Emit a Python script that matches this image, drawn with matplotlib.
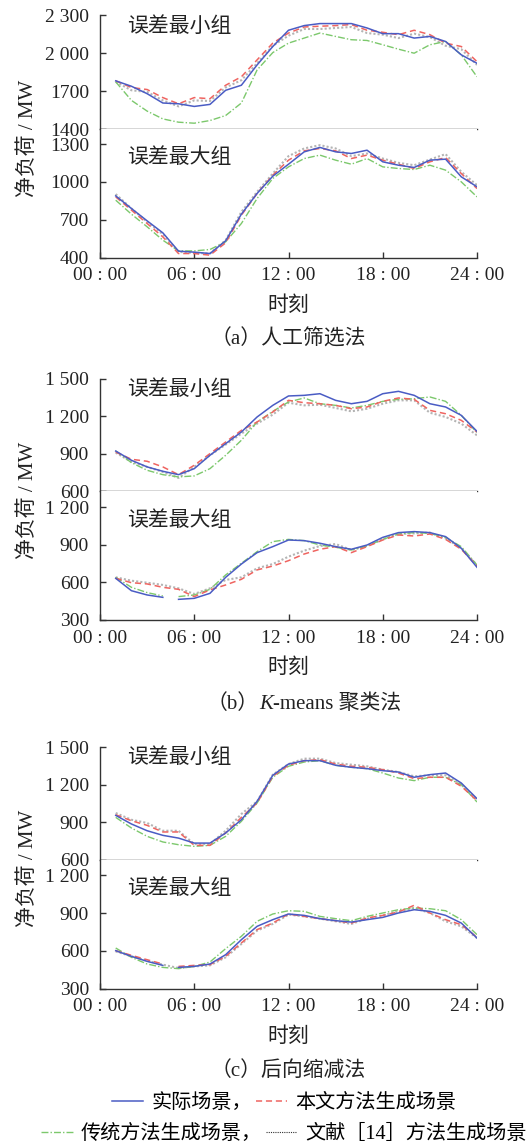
import matplotlib
matplotlib.use("Agg")
from matplotlib import pyplot as plt
from matplotlib.lines import Line2D
from matplotlib.text import Annotation

plt.rcParams['font.family'] = ['Liberation Serif', 'Noto Sans CJK SC', 'DejaVu Sans']

# hourly points 01:00 .. 24:00
hours = list(range(1, 25))
x_ticks = [0, 6, 12, 18, 24]
x_labels = ['00 : 00', '06 : 00', '12 : 00', '18 : 00', '24 : 00']

# (a) 人工筛选法 - 误差最小组
a_min_actual = [1782, 1739, 1680, 1606, 1600, 1579, 1595, 1707, 1747, 1908, 2054, 2183,
                2220, 2236, 2236, 2236, 2201, 2156, 2156, 2121, 2134, 2094, 1988, 1921]
a_min_ours = [1782, 1729, 1713, 1649, 1600, 1649, 1640, 1747, 1814, 1948, 2081, 2161,
              2209, 2215, 2220, 2228, 2183, 2167, 2148, 2183, 2148, 2081, 2054, 1934]
a_min_trad = [1774, 1627, 1542, 1480, 1454, 1446, 1467, 1507, 1606, 1868, 2006, 2081,
              2121, 2161, 2134, 2108, 2102, 2068, 2033, 2001, 2068, 2094, 1988, 1814]
a_min_ref14 = [1774, 1707, 1694, 1627, 1579, 1627, 1622, 1729, 1787, 1921, 2060, 2140,
               2193, 2193, 2201, 2209, 2161, 2148, 2121, 2156, 2129, 2060, 2033, 1908]
# (a) 误差最大组
a_max_actual = [890, 790, 692, 597, 452, 444, 433, 534, 745, 909, 1046, 1141,
                1239, 1274, 1239, 1226, 1252, 1160, 1133, 1115, 1173, 1181, 1041, 962]
a_max_ours = [882, 777, 671, 565, 433, 433, 420, 518, 737, 909, 1054, 1173,
              1247, 1266, 1247, 1186, 1213, 1173, 1141, 1107, 1160, 1194, 1067, 948]
a_max_trad = [856, 745, 645, 539, 454, 454, 465, 526, 671, 869, 1028, 1120,
              1186, 1213, 1173, 1141, 1186, 1120, 1107, 1099, 1133, 1094, 1001, 882]
a_max_ref14 = [904, 790, 684, 586, 446, 438, 433, 539, 763, 922, 1067, 1205,
               1266, 1292, 1266, 1205, 1226, 1186, 1152, 1133, 1178, 1221, 1081, 975]

# (b) K-means 聚类法 - 误差最小组
b_min_actual = [922, 848, 795, 760, 733, 781, 888, 981, 1074, 1194, 1287, 1362,
                1367, 1380, 1327, 1300, 1319, 1380, 1399, 1367, 1300, 1274, 1207, 1079]
b_min_ours = [914, 856, 840, 795, 733, 808, 901, 994, 1087, 1154, 1234, 1327,
              1308, 1300, 1287, 1260, 1274, 1319, 1346, 1335, 1247, 1220, 1167, 1074]
b_min_trad = [922, 829, 768, 733, 715, 723, 781, 888, 1008, 1154, 1239, 1314,
              1346, 1300, 1287, 1266, 1287, 1319, 1335, 1340, 1354, 1319, 1207, 1069]
b_min_ref14 = [909, 835, 795, 755, 707, 795, 888, 973, 1061, 1141, 1213, 1308,
               1287, 1292, 1266, 1239, 1260, 1300, 1327, 1327, 1228, 1194, 1141, 1047]
# (b) 误差最大组
b_max_actual = [633, 534, 500, 481, 465, 473, 513, 641, 747, 838, 886, 939,
                934, 913, 886, 865, 899, 960, 998, 1006, 998, 966, 873, 721]
b_max_ours = [633, 598, 588, 561, 545, 487, 540, 580, 625, 700, 731, 774,
              827, 865, 886, 838, 886, 939, 979, 971, 987, 944, 865, 731]
b_max_trad = [641, 561, 519, 492, 487, 500, 545, 660, 753, 846, 926, 944,
              934, 899, 881, 859, 891, 944, 987, 998, 992, 960, 886, 739]
b_max_ref14 = [641, 614, 598, 580, 553, 508, 553, 620, 641, 713, 747, 806,
               854, 891, 907, 859, 891, 944, 987, 992, 998, 952, 873, 739]

# (c) 后向缩减法 - 误差最小组
c_min_actual = [955, 886, 832, 795, 773, 733, 733, 814, 920, 1067, 1276, 1366,
                1393, 1393, 1356, 1340, 1329, 1313, 1302, 1260, 1281, 1294, 1214, 1089]
c_min_ours = [960, 912, 875, 822, 822, 715, 715, 814, 939, 1054, 1268, 1356,
              1393, 1401, 1366, 1348, 1340, 1321, 1294, 1249, 1260, 1260, 1188, 1073]
c_min_trad = [939, 854, 787, 742, 720, 707, 715, 787, 907, 1054, 1260, 1348,
              1382, 1393, 1356, 1340, 1329, 1294, 1254, 1233, 1260, 1260, 1201, 1062]
c_min_ref14 = [974, 920, 894, 832, 832, 725, 725, 832, 966, 1067, 1281, 1366,
               1409, 1409, 1374, 1361, 1348, 1321, 1302, 1268, 1276, 1276, 1201, 1081]
# (c) 误差最大组
c_max_actual = [602, 557, 517, 485, 469, 477, 496, 570, 689, 795, 848, 893,
                882, 856, 840, 829, 848, 866, 901, 927, 914, 882, 821, 702]
c_max_ours = [602, 565, 530, 496, 477, 485, 491, 557, 663, 769, 821, 893,
              874, 856, 840, 821, 861, 882, 909, 962, 901, 848, 808, 708]
c_max_trad = [623, 549, 496, 469, 459, 477, 512, 618, 716, 835, 893, 919,
              914, 874, 856, 840, 874, 901, 927, 941, 935, 919, 848, 729]
c_max_ref14 = [596, 557, 522, 491, 464, 477, 485, 549, 655, 761, 814, 888,
               874, 856, 835, 814, 856, 882, 914, 941, 901, 835, 795, 702]

STYLES = {
    'ref14': dict(color='#b4b4b4', lw=1.5, ls=(0, (1, 1))),
    'trad': dict(color='#7cc86c', lw=1.0, ls=(0, (5, 1.5, 1, 1.5))),
    'ours': dict(color='#ef6460', lw=1.1, ls=(0, (4, 2.5))),
    'actual': dict(color='#4a5cc4', lw=1.1, ls='-'),
}
TXT = '#222222'

W, H = 530, 1145
L, R = 100, 477


def fy(y):
    return 1 - y / H


def draw(ax, series, breaks):
    # series: dict name -> values, breaks: names drawn with a gap between 04:00 and 05:00
    for name in ['ref14', 'trad', 'ours', 'actual']:
        y = series[name]
        if name in breaks:
            ax.plot(hours[:4], y[:4], **STYLES[name])
            ax.plot(hours[4:], y[4:], **STYLES[name])
        else:
            ax.plot(hours, y, **STYLES[name])


def style_axes(ax, ylim, yticks, ylabels, is_top):
    ax.set_xlim(0, 24)
    ax.set_ylim(*ylim)
    ax.set_yticks(yticks)
    ax.set_yticklabels(ylabels, fontsize=14)
    ax.spines['right'].set_visible(False)
    ax.spines['top'].set_visible(False)
    for s in ax.spines.values():
        s.set_color('#333333')
        s.set_linewidth(1.0)
    ax.tick_params(axis='y', direction='in', length=4.5, width=1, color='#333333',
                   labelcolor=TXT, pad=8)
    if is_top:
        ax.tick_params(axis='x', bottom=False, labelbottom=False)
    else:
        ax.set_xticks(x_ticks)
        ax.set_xticklabels(x_labels, fontsize=14)
        ax.tick_params(axis='x', direction='in', length=4.5, width=1, color='#333333',
                       labelcolor=TXT, pad=7)


def chain_text(fig, parts, x, y):
    # pieces of mixed style written one after another on the same baseline
    prev = fig.text(x, y, parts[0][0], fontsize=15, style=parts[0][1],
                    ha='left', va='baseline', color=TXT)
    for text, fstyle in parts[1:]:
        prev = fig.add_artist(Annotation(text, xy=(1, y), xycoords=(prev, 'figure fraction'),
                                         fontsize=15, style=fstyle, ha='left',
                                         va='baseline', color=TXT))


fig = plt.figure(figsize=(W / 100, H / 100), dpi=100)

panels = [
    dict(top=15.5, sep=129, bot=257.7,
         mins=dict(actual=a_min_actual, ours=a_min_ours, trad=a_min_trad, ref14=a_min_ref14),
         maxs=dict(actual=a_max_actual, ours=a_max_ours, trad=a_max_trad, ref14=a_max_ref14),
         ylim_top=(1400, 2300), yt_top=[1400, 1700, 2000, 2300],
         yl_top=['1400', '1700', '2 000', '2 300'],
         ylim_bot=(400, 1420), yt_bot=[400, 700, 1000, 1300],
         yl_bot=['400', '700', '1000', '1300'],
         breaks=[], caption=[('（a）人工筛选法', 'normal')]),
    dict(top=378.7, sep=491.3, bot=620,
         mins=dict(actual=b_min_actual, ours=b_min_ours, trad=b_min_trad, ref14=b_min_ref14),
         maxs=dict(actual=b_max_actual, ours=b_max_ours, trad=b_max_trad, ref14=b_max_ref14),
         ylim_top=(600, 1500), yt_top=[600, 900, 1200, 1500],
         yl_top=['600', '900', '1 200', '1 500'],
         ylim_bot=(300, 1328), yt_bot=[300, 600, 900, 1200],
         yl_bot=['300', '600', '900', '1 200'],
         breaks=['actual', 'trad'],
         caption=[('（b）', 'normal'), ('K', 'italic'), ('-means 聚类法', 'normal')]),
    dict(top=747.3, sep=859.7, bot=988.7,
         mins=dict(actual=c_min_actual, ours=c_min_ours, trad=c_min_trad, ref14=c_min_ref14),
         maxs=dict(actual=c_max_actual, ours=c_max_ours, trad=c_max_trad, ref14=c_max_ref14),
         ylim_top=(600, 1500), yt_top=[600, 900, 1200, 1500],
         yl_top=['600', '900', '1 200', '1 500'],
         ylim_bot=(300, 1324), yt_bot=[300, 600, 900, 1200],
         yl_bot=['300', '600', '900', '1 200'],
         breaks=['actual', 'ours'], caption=[('（c）后向缩减法', 'normal')]),
]

xc = (L + R) / 2 / W
for p in panels:
    ax1 = fig.add_axes([L / W, fy(p['sep']), (R - L) / W, (p['sep'] - p['top']) / H])
    ax2 = fig.add_axes([L / W, fy(p['bot']), (R - L) / W, (p['bot'] - p['sep']) / H])
    draw(ax1, p['mins'], [])
    draw(ax2, p['maxs'], p['breaks'])
    style_axes(ax1, p['ylim_top'], p['yt_top'], p['yl_top'], True)
    style_axes(ax2, p['ylim_bot'], p['yt_bot'], p['yl_bot'], False)
    ax1.text(0.072, 0.9, '误差最小组', transform=ax1.transAxes, fontsize=15,
             va='center', ha='left', color=TXT)
    ax2.text(0.072, 0.77, '误差最大组', transform=ax2.transAxes, fontsize=15,
             va='center', ha='left', color=TXT)
    fig.text(28 / W, fy(p['sep'] + 9), '净负荷 / MW', rotation=90, fontsize=15,
             va='center', ha='center', color=TXT)
    fig.text(xc, fy(p['bot'] + 48), '时刻', fontsize=15, ha='center', va='center', color=TXT)
    if len(p['caption']) == 1:
        fig.text(xc, fy(p['bot'] + 82), p['caption'][0][0], fontsize=15, ha='center',
                 va='center', color=TXT)
    else:
        chain_text(fig, p['caption'], 207 / W, fy(p['bot'] + 89))

# legend, two centred rows
h_actual = Line2D([], [], **STYLES['actual'])
h_ours = Line2D([], [], **STYLES['ours'])
h_trad = Line2D([], [], **STYLES['trad'])
h_ref14 = Line2D([], [], color='#333333', lw=0.8, ls=(0, (1, 1)))
leg_kw = dict(loc='center', ncol=2, frameon=False, fontsize=14.5, handlelength=1.55,
              handletextpad=0.4, columnspacing=0.2, borderpad=0, borderaxespad=0)
fig.legend([h_actual, h_ours], ['实际场景，', '本文方法生成场景'],
           bbox_to_anchor=(284 / W, fy(1103)), **leg_kw)
fig.legend([h_trad, h_ref14], ['传统方法生成场景，', '文献［14］方法生成场景'],
           bbox_to_anchor=(284 / W, fy(1134)), **leg_kw)

fig.savefig('out.png', dpi=100)
